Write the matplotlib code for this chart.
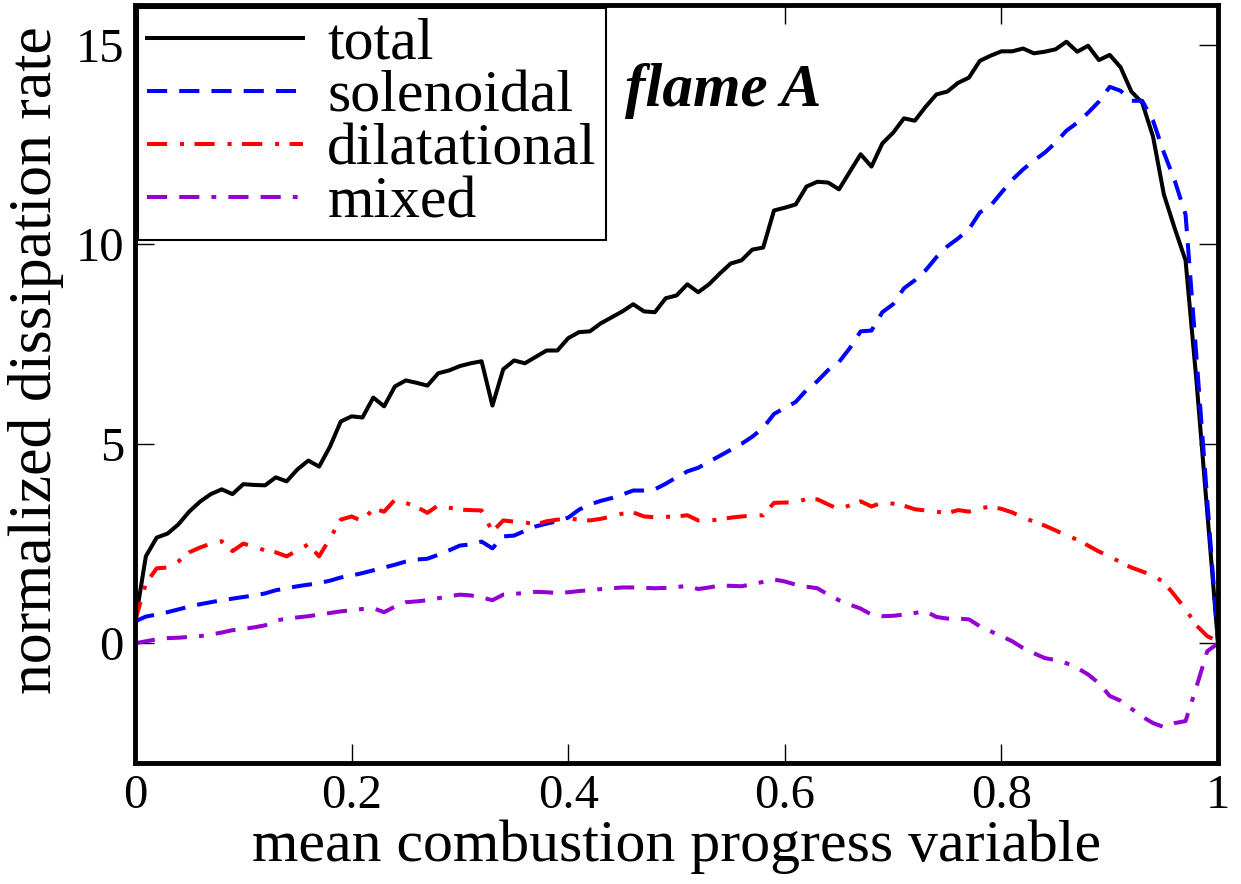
import numpy as np
import matplotlib
matplotlib.use('Agg')
import matplotlib.pyplot as plt
from matplotlib import rcParams

rcParams['font.family'] = ['Liberation Serif', 'DejaVu Serif']

# mean progress variable, sampled every 0.01
c_mean = np.linspace(0.0, 1.0, 101)

total = [
    0.50, 2.18, 2.65, 2.75, 2.98, 3.30, 3.55, 3.74, 3.86, 3.74,
    3.99, 3.97, 3.96, 4.16, 4.06, 4.36, 4.58, 4.43, 4.93, 5.56,
    5.69, 5.66, 6.16, 5.94, 6.44, 6.59, 6.53, 6.46, 6.77, 6.84,
    6.95, 7.02, 7.07, 5.96, 6.87, 7.09, 7.02, 7.18, 7.34, 7.34,
    7.65, 7.80, 7.82, 8.02, 8.17, 8.32, 8.50, 8.32, 8.30, 8.65,
    8.72, 9.00, 8.80, 9.00, 9.27, 9.52, 9.60, 9.87, 9.92, 10.85,
    10.92, 11.00, 11.45, 11.57, 11.55, 11.38, 11.82, 12.26, 11.95, 12.53,
    12.80, 13.16, 13.10, 13.45, 13.76, 13.83, 14.05, 14.18, 14.60, 14.73,
    14.84, 14.84, 14.91, 14.79, 14.83, 14.89, 15.08, 14.83, 14.98, 14.62,
    14.75, 14.44, 13.83, 13.55, 12.70, 11.25, 10.40, 9.60, 6.60, 3.30,
    0.00]

solenoidal = [
    0.55, 0.67, 0.72, 0.78, 0.85, 0.92, 0.98, 1.03, 1.08, 1.12,
    1.16, 1.20, 1.25, 1.33, 1.38, 1.43, 1.47, 1.51, 1.57, 1.65,
    1.70, 1.76, 1.83, 1.90, 1.97, 2.05, 2.10, 2.12, 2.22, 2.33,
    2.45, 2.48, 2.55, 2.38, 2.68, 2.70, 2.82, 2.93, 3.00, 3.06,
    3.15, 3.35, 3.48, 3.57, 3.64, 3.73, 3.83, 3.83, 3.86, 4.00,
    4.16, 4.31, 4.40, 4.55, 4.70, 4.85, 5.00, 5.18, 5.40, 5.75,
    5.90, 6.05, 6.35, 6.57, 6.85, 7.05, 7.40, 7.82, 7.84, 8.30,
    8.50, 8.90, 9.10, 9.35, 9.68, 9.95, 10.15, 10.38, 10.80, 10.97,
    11.30, 11.62, 11.88, 12.10, 12.30, 12.55, 12.85, 13.05, 13.30, 13.58,
    13.95, 13.85, 13.60, 13.60, 13.10, 12.30, 11.60, 10.75, 7.20, 3.60,
    0.00]

dilatational = [
    0.55, 1.50, 1.88, 1.90, 2.05, 2.28, 2.40, 2.50, 2.56, 2.31,
    2.50, 2.42, 2.33, 2.28, 2.18, 2.33, 2.48, 2.18, 2.63, 3.10,
    3.18, 3.06, 3.38, 3.30, 3.60, 3.52, 3.42, 3.27, 3.46, 3.40,
    3.35, 3.34, 3.33, 2.80, 3.08, 3.05, 3.03, 2.98, 3.06, 3.10,
    3.13, 3.10, 3.08, 3.12, 3.18, 3.25, 3.28, 3.18, 3.16, 3.17,
    3.18, 3.21, 3.08, 3.08, 3.10, 3.15, 3.18, 3.20, 3.21, 3.52,
    3.53, 3.53, 3.62, 3.61, 3.48, 3.36, 3.46, 3.56, 3.43, 3.53,
    3.50, 3.45, 3.36, 3.33, 3.30, 3.26, 3.34, 3.30, 3.38, 3.43,
    3.37, 3.28, 3.15, 3.05, 2.95, 2.83, 2.70, 2.60, 2.45, 2.30,
    2.18, 2.03, 1.90, 1.80, 1.70, 1.53, 1.20, 0.86, 0.45, 0.18,
    0.05]

mixed = [
    0.00, 0.05, 0.10, 0.13, 0.14, 0.16, 0.18, 0.22, 0.27, 0.33,
    0.36, 0.40, 0.45, 0.57, 0.62, 0.65, 0.68, 0.72, 0.76, 0.80,
    0.83, 0.86, 0.88, 0.78, 0.92, 1.03, 1.05, 1.08, 1.13, 1.18,
    1.22, 1.20, 1.15, 1.08, 1.22, 1.24, 1.26, 1.29, 1.28, 1.26,
    1.28, 1.31, 1.33, 1.36, 1.38, 1.40, 1.40, 1.39, 1.38, 1.39,
    1.41, 1.44, 1.36, 1.40, 1.45, 1.44, 1.43, 1.48, 1.54, 1.60,
    1.55, 1.47, 1.42, 1.38, 1.22, 1.08, 0.97, 0.87, 0.72, 0.68,
    0.69, 0.72, 0.76, 0.80, 0.66, 0.62, 0.62, 0.60, 0.43, 0.30,
    0.18, 0.05, -0.12, -0.25, -0.37, -0.42, -0.50, -0.62, -0.78, -1.00,
    -1.32, -1.44, -1.64, -1.84, -2.00, -2.10, -2.00, -1.95, -1.10, -0.20,
    0.00]

lw = 2.9

fig = plt.figure(figsize=(12.41, 8.84), dpi=100)
ax = fig.add_axes([0.1088, 0.1369, 0.8727, 0.8574])

ax.plot(c_mean, total, color='k', lw=lw, label='total')
ax.plot(c_mean, solenoidal, color='#0000ff', lw=lw, dashes=(5, 3),
        label='solenoidal')
ax.plot(c_mean, dilatational, color='#ff0000', lw=lw, dashes=(5, 3.2, 1, 2.6),
        label='dilatational')
ax.plot(c_mean, mixed, color='#9400d3', lw=lw, dashes=(5, 3, 5, 3, 1.2, 3),
        label='mixed')

ax.set_xlim(0, 1)
ax.set_ylim(-3, 16)
ax.set_xticks([0, 0.2, 0.4, 0.6, 0.8, 1.0])
ax.set_xticklabels(['0', '0.2', '0.4', '0.6', '0.8', '1'])
ax.set_yticks([0, 5, 10, 15])

for sp in ax.spines.values():
    sp.set_linewidth(3.5)
ax.tick_params(direction='in', length=14, width=1.0, top=True, right=True,
               labelsize=35, pad=8)

ax.set_xlabel('mean combustion progress variable', fontsize=43)
ax.set_ylabel('normalized dissipation rate', fontsize=44.5)
ax.xaxis.set_label_coords(0.5, -0.075)
ax.yaxis.set_label_coords(-0.066, 0.532)

ax.text(0.452, 13.46, 'flame A', fontsize=44, fontweight='bold',
        fontstyle='italic', va='baseline', ha='left')

leg = ax.legend(loc='upper left', fontsize=43, frameon=True, fancybox=False,
                edgecolor='k', framealpha=1, borderaxespad=0.05,
                borderpad=0.15, labelspacing=-0.03, handlelength=2.62,
                handletextpad=0.4)
leg.get_frame().set_linewidth(1.5)

plt.savefig('out.png', dpi=100)
plt.close()
